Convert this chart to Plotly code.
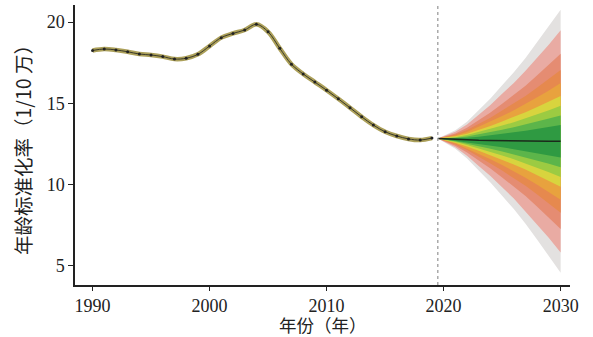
import plotly.graph_objects as go

# Historical age-standardized rate (per 100k/10)
hist_years = list(range(1990, 2020))
hist_vals = [18.25, 18.34, 18.28, 18.17, 18.03, 17.97, 17.87, 17.72, 17.77, 18.01,
             18.52, 19.04, 19.30, 19.51, 19.86, 19.40, 18.38, 17.40, 16.80, 16.30,
             15.80, 15.27, 14.72, 14.16, 13.65, 13.24, 12.98, 12.80, 12.73, 12.85]

# Forecast
fc_years = [2019.5, 2021, 2022, 2023, 2024, 2025, 2026, 2027, 2028, 2029, 2030]
fc_mean = [12.82, 12.76, 12.73, 12.71, 12.70, 12.70, 12.69, 12.68, 12.67, 12.66, 12.65]

# Half widths of each prediction band (outer -> inner)
band_names = ["b1", "b2", "b3", "b4", "b5", "b6", "b7", "b8", "b9"]
band_colors = ["#e3e1e0", "#e9aba3", "#e58c72", "#e6894e", "#e8a23e",
               "#d8d43e", "#9ccb42", "#5cb54a", "#2f9a42"]
band_width = [
    [0, 0.57, 1.13, 1.86, 2.59, 3.40, 4.21, 5.10, 6.08, 7.05, 8.10],
    [0, 0.48, 0.96, 1.58, 2.19, 2.88, 3.56, 4.32, 5.14, 5.96, 6.85],
    [0, 0.38, 0.76, 1.24, 1.73, 2.27, 2.81, 3.40, 4.05, 4.70, 5.40],
    [0, 0.31, 0.62, 1.01, 1.41, 1.85, 2.29, 2.77, 3.30, 3.83, 4.40],
    [0, 0.25, 0.50, 0.83, 1.15, 1.51, 1.87, 2.27, 2.70, 3.13, 3.60],
    [0, 0.20, 0.39, 0.64, 0.90, 1.18, 1.46, 1.76, 2.10, 2.44, 2.80],
    [0, 0.15, 0.31, 0.51, 0.70, 0.92, 1.14, 1.39, 1.65, 1.91, 2.20],
    [0, 0.11, 0.22, 0.37, 0.51, 0.67, 0.83, 1.01, 1.20, 1.39, 1.60],
    [0, 0.07, 0.14, 0.23, 0.32, 0.42, 0.52, 0.63, 0.75, 0.87, 1.00],
]

x_ticks = [1990, 2000, 2010, 2020, 2030]
y_ticks = [5, 10, 15, 20]

fig = go.Figure()

for name, col, w in zip(band_names, band_colors, band_width):
    up = [m + d for m, d in zip(fc_mean, w)]
    lo = [m - d for m, d in zip(fc_mean, w)]
    fig.add_trace(go.Scatter(
        x=fc_years + fc_years[::-1], y=up + lo[::-1],
        fill="toself", fillcolor=col, mode="lines",
        line=dict(width=0, color=col),
        hoverinfo="skip", showlegend=False, name=name))

fig.add_trace(go.Scatter(x=fc_years, y=fc_mean, mode="lines",
                         line=dict(color="#1b2a1b", width=1.5),
                         showlegend=False))

fig.add_trace(go.Scatter(x=hist_years, y=hist_vals, mode="lines",
                         line=dict(color="#aca05a", width=4.5, shape="spline"),
                         showlegend=False))
fig.add_trace(go.Scatter(x=hist_years, y=hist_vals, mode="lines+markers",
                         line=dict(color="#3a3a2a", width=1, shape="spline"),
                         marker=dict(color="#222", size=3),
                         showlegend=False))

fig.add_shape(type="line", x0=2019.5, x1=2019.5, y0=3.8, y1=21.05,
              xref="x", yref="y", line=dict(color="#aaaaaa", width=1.5, dash="dot"))

fig.add_annotation(text="年份（年）", xref="paper", yref="paper",
                   x=0.5, y=-0.142, yanchor="middle", xanchor="center",
                   showarrow=False,
                   font=dict(family="Noto Sans CJK SC", size=17.5, color="#222"))
fig.add_annotation(text="年龄标准化率（1/10 万）", xref="paper", yref="paper",
                   x=-0.107, y=0.5, yanchor="middle", xanchor="center",
                   textangle=-90, showarrow=False,
                   font=dict(family="Noto Sans CJK SC", size=19.5, color="#222"))

fig.update_layout(
    width=593, height=337,
    margin=dict(l=75, r=23, t=5, b=52),
    plot_bgcolor="white", paper_bgcolor="white",
    font=dict(family="Liberation Serif", size=18, color="#222"),
    xaxis=dict(range=[1988.5, 2030.8], tickvals=x_ticks, showline=True,
               linecolor="#222", linewidth=1.5, ticks="outside", ticklen=4,
               tickcolor="#222", showgrid=False, zeroline=False, automargin=False),
    yaxis=dict(range=[3.8, 21.05], tickvals=y_ticks, showline=True,
               linecolor="#222", linewidth=1.5, ticks="outside", ticklen=5,
               tickcolor="#222", showgrid=False, zeroline=False, automargin=False),
)

fig.write_html("out.html", config={"displayModeBar": False},
               post_script="document.body.style.margin='0';document.body.style.overflow='hidden';")
